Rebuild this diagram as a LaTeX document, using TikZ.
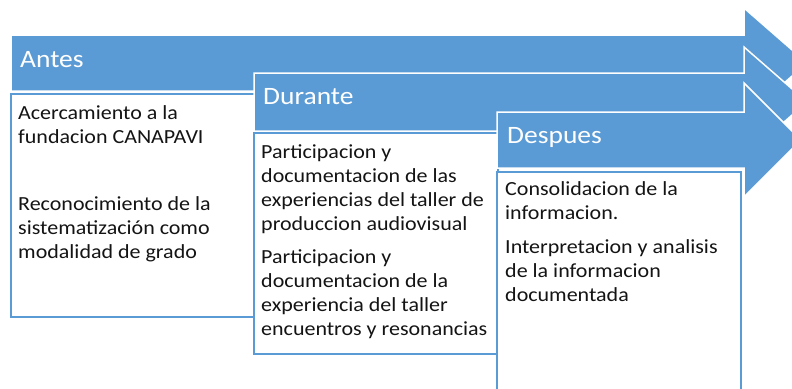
\documentclass[tikz,border=0pt]{standalone}
\usepackage{fontspec}
\setmainfont{Carlito}[FakeStretch=1.1]
\definecolor{ablue}{RGB}{91,155,213}
\definecolor{txt}{RGB}{20,20,20}
\tikzset{
  arrowshape/.style={fill=ablue, draw=white, line width=1.5pt, line join=miter},
  contentbox/.style={fill=white, draw=ablue, line width=1.4pt},
  headtext/.style={anchor=base west, inner sep=0pt, text=white, font=\fontsize{25}{30}\selectfont},
  bodytext/.style={anchor=base west, inner sep=0pt, text=txt, align=left, font=\fontsize{20}{24}\selectfont}
}
\begin{document}
\begin{tikzpicture}[x=1pt,y=-1pt]
\useasboundingbox (0,0) rectangle (792,388);
\clip (0,0) rectangle (792,388);
% Arrow 1 (Antes)
\draw[arrowshape] (11,35) -- (744,35) -- (744,8) -- (807,63) -- (744,118) -- (744,91) -- (11,91) -- cycle;
\node[headtext] (antes) at (20,67) {Antes};
% Box 1
\draw[contentbox] (11,94) rectangle (255,317);
\node[bodytext] (b1a) at (18,143) {Acercamiento a la\\fundacion CANAPAVI};
\node[bodytext] (b1b) at (18,258) {Reconocimiento de la\\sistematización como\\modalidad de grado};
% Arrow 2 (Durante)
\draw[arrowshape] (254,73) -- (744,73) -- (744,47) -- (807,102) -- (744,157) -- (744,131) -- (254,131) -- cycle;
\node[headtext] (durante) at (263,104) {Durante};
% Box 2
\draw[contentbox] (254,133) rectangle (498,354);
\node[bodytext] (b2a) at (261,230) {Participacion y\\documentacion de las\\experiencias del taller de\\produccion audiovisual};
\node[bodytext] (b2b) at (261,335) {Participacion y\\documentacion de la\\experiencia del taller\\encuentros y resonancias};
% Arrow 3 (Despues)
\draw[arrowshape] (497,112) -- (744,112) -- (744,83) -- (801,140) -- (744,197) -- (744,168) -- (497,168) -- cycle;
\node[headtext] (despues) at (507,143) {Despues};
% Box 3
\draw[contentbox] (497,172) rectangle (741,396);
\node[bodytext] (b3a) at (505,219) {Consolidacion de la\\informacion.};
\node[bodytext] (b3b) at (505,301) {Interpretacion y analisis\\de la informacion\\documentada};
\end{tikzpicture}
\end{document}
